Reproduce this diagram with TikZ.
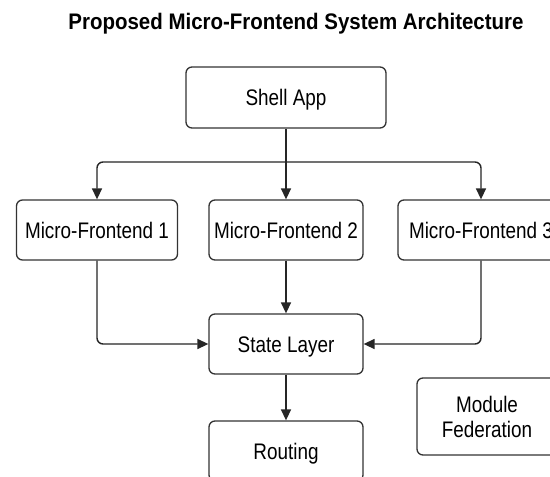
\documentclass[tikz,border=0pt]{standalone}
\usepackage{fontspec}
\setmainfont{Liberation Sans}[FakeStretch=0.84]
\newfontfamily\titrefont{Liberation Sans}[FakeStretch=0.91]
\usetikzlibrary{arrows.meta}

\tikzset{
    bloc/.style={draw=black!80, line width=1.3pt, rounded corners=6pt,
        fill=white, inner sep=0pt, align=center,
        font=\fontsize{22.5}{25}\selectfont},
    ligne/.style={bloc, text height=16pt, text depth=0pt},
    lien/.style={draw=black!85, line width=1.4pt, rounded corners=6pt,
        -{Triangle[length=11pt, width=10pt]}},
}

\begin{document}
\begin{tikzpicture}[x=1pt, y=-1pt]
        % --- Cadre de l'image (550 x 477) ---
        \clip (0, 0) rectangle (550, 477);
        \fill[white] (0, 0) rectangle (550, 477);

        % ==============================================================
        % 1. TITRE
        % ==============================================================
        \node[anchor=base, font=\titrefont\fontsize{22.5}{25}\bfseries] (titre)
            at (296, 29) {Proposed Micro-Frontend System Architecture};

        % ==============================================================
        % 2. BLOCS DE L'ARCHITECTURE
        % ==============================================================
        % Application hôte
        \node[ligne, minimum width=200pt, minimum height=61pt] (shell) at (286, 97.5) {Shell App};

        % Les trois micro-frontends
        \node[ligne, minimum width=161pt, minimum height=60pt] (mf1) at (97, 230)  {Micro-Frontend 1};
        \node[ligne, minimum width=154pt, minimum height=60pt] (mf2) at (286, 230) {Micro-Frontend 2};
        \node[ligne, minimum width=166pt, minimum height=60pt] (mf3) at (481, 230) {Micro-Frontend 3};

        % Couche d'état partagée et routage
        \node[ligne, minimum width=154pt, minimum height=60pt] (state)   at (286, 344) {State Layer};
        \node[ligne, minimum width=154pt, minimum height=60pt] (routing) at (286, 451) {Routing};

        % Fédération de modules (isolée)
        \node[bloc, minimum width=140pt, minimum height=77pt] (modfed)
            at (487, 416.5) {Module\\Federation};

        % ==============================================================
        % 3. CONNEXIONS
        % ==============================================================
        % Point de partage sous le Shell
        \coordinate (split) at (286, 162);

        % Shell -> micro-frontends
        \draw[lien] (shell) -- (mf2);
        \draw[lien] (split) -| (mf1.north);
        \draw[lien] (split) -| (mf3.north);

        % Micro-frontends -> couche d'état
        \draw[lien] (mf1.south) |- (state.west);
        \draw[lien] (mf2) -- (state);
        \draw[lien] (mf3.south) |- (state.east);

        % Couche d'état -> routage
        \draw[lien] (state) -- (routing);
    \end{tikzpicture}
\end{document}
